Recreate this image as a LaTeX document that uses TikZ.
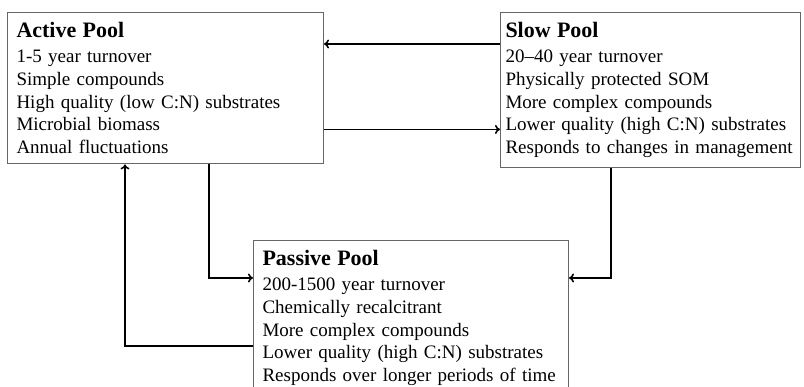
\documentclass[tikz,border=0pt]{standalone}
\usepackage{fontspec}
\setmainfont{Liberation Serif}
\usetikzlibrary{arrows.meta, positioning}

\newcommand{\pooltitle}[1]{{\fontsize{22}{25}\selectfont\bfseries #1}}

\begin{document}
\begin{tikzpicture}[x=1pt, y=1pt]
    \tikzstyle{pool} = [rectangle, draw=black!60, line width=1pt, anchor=north west, align=left, inner xsep=9pt, inner ysep=10pt, font=\fontsize{19}{22.8}\selectfont]
    \tikzstyle{line} = [draw, -{To[length=5pt, width=9pt]}, line width=1.6pt]

    \useasboundingbox (0,0) rectangle (804,387);

    \node [pool, text width=298pt] (active) at (7,375) {\pooltitle{Active Pool}\\[2pt]
        1-5 year turnover\\ Simple compounds\\ High quality (low C:N) substrates\\
        Microbial biomass\\ Annual fluctuations};
    \node [pool, text width=290pt, inner xsep=5pt] (slow) at (500,375) {\pooltitle{Slow Pool}\\[2pt]
        20--40 year turnover\\ Physically protected SOM\\ More complex compounds\\
        Lower quality (high C:N) substrates\\ Responds to changes in management};
    \node [pool, text width=297pt] (passive) at (253,147) {\pooltitle{Passive Pool}\\[2pt]
        200-1500 year turnover\\ Chemically recalcitrant\\ More complex compounds\\
        Lower quality (high C:N) substrates\\ Responds over longer periods of time};

    \path [line] ([yshift=-32pt]slow.north west) -- ([yshift=-32pt]active.north east);
    \coordinate (a2) at ([yshift=35pt]active.south east);
    \path [line] (a2) -- (a2 -| slow.west);
    \coordinate (p1) at ([yshift=-38pt]passive.north west);
    \path [line] ([xshift=202pt]active.south west) |- (p1);
    \coordinate (p2) at ([yshift=-106pt]passive.north west);
    \path [line] (p2) -| ([xshift=118pt]active.south west);
    \coordinate (p3) at ([yshift=-38pt]passive.north east);
    \path [line] ([xshift=111pt]slow.south west) |- (p3);
\end{tikzpicture}
\end{document}
